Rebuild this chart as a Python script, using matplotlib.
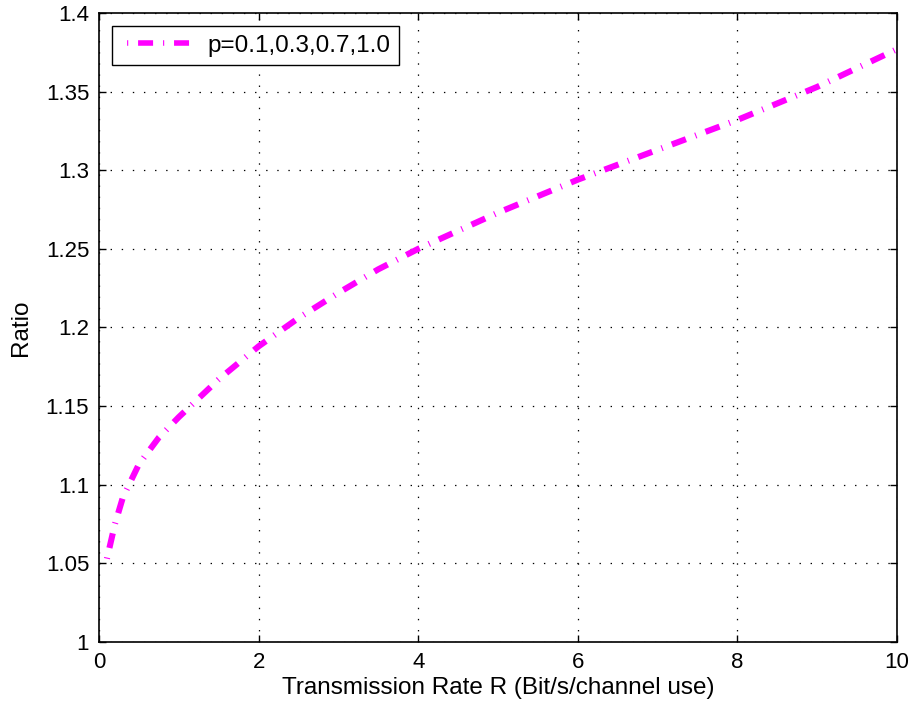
import matplotlib
matplotlib.use("Agg")
import matplotlib.pyplot as plt
from matplotlib.lines import Line2D

plt.rcParams['font.family'] = ['Liberation Sans', 'DejaVu Sans']
plt.rcParams['lines.scale_dashes'] = False

rate = [0.1, 0.2, 0.3, 0.5, 0.75, 1.0, 1.5, 2.0, 2.5, 3.0, 3.5, 4.0, 5.0, 6.0, 7.0, 8.0, 9.0, 10.0]
ratio = [1.053, 1.075, 1.092, 1.113, 1.130, 1.143, 1.167, 1.188, 1.206, 1.222, 1.237, 1.250,
         1.273, 1.294, 1.313, 1.332, 1.353, 1.377]
label = "p=0.1,0.3,0.7,1.0"
xticks = [0, 2, 4, 6, 8, 10]
yticks = [1, 1.05, 1.1, 1.15, 1.2, 1.25, 1.3, 1.35, 1.4]
ytick_labels = ['1', '1.05', '1.1', '1.15', '1.2', '1.25', '1.3', '1.35', '1.4']

pattern = (0.8, 7.1, 10.8, 7.2)
color = '#ff00ff'

fig = plt.figure(figsize=(9.13, 7.09), dpi=100)
ax = fig.add_axes([0.1084, 0.0945, 0.8741, 0.8872])

ax.plot(rate, ratio, color=color, lw=4.4, solid_capstyle='butt',
        dash_capstyle='butt', linestyle=(0, pattern))

ax.set_xlim(0, 10)
ax.set_ylim(1, 1.4)
ax.set_xticks(xticks)
ax.set_xticklabels([str(t) for t in xticks])
ax.set_yticks(yticks)
ax.set_yticklabels(ytick_labels)
ax.tick_params(direction='in', length=5, width=1, top=True, right=True,
               labelsize=16, colors='black')
ax.tick_params(axis='x', pad=7)
ax.tick_params(axis='y', pad=7)
for s in ax.spines.values():
    s.set_linewidth(1.2)
ax.grid(True, color='black', linestyle=(0, (1, 7)), linewidth=0.9)

ax.set_xlabel("Transmission Rate R (Bit/s/channel use)", fontsize=17.5, labelpad=3)
ax.set_ylabel("Ratio", fontsize=17.5, labelpad=10)

proxy = Line2D([], [], color=color, lw=4.0, dash_capstyle='butt',
               linestyle=(21.5, pattern))
leg = ax.legend([proxy], [label], loc='upper left', fontsize=17.5,
                handlelength=3.16, fancybox=False, framealpha=1, edgecolor='black',
                borderaxespad=0.54, handletextpad=0.4, borderpad=0.35)
leg.get_frame().set_linewidth(1.0)

fig.savefig("out.png", dpi=100)
